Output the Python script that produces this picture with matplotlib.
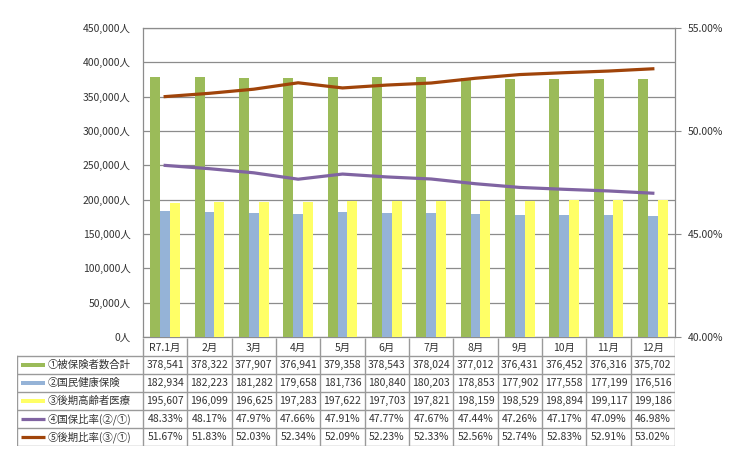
import matplotlib.pyplot as plt
import matplotlib.ticker as mticker
from matplotlib.patches import Rectangle
import numpy as np

plt.rcParams['font.family'] = ['Noto Sans CJK JP', 'DejaVu Sans']

# data
months = ['R7.1月', '2月', '3月', '4月', '5月', '6月', '7月', '8月', '9月', '10月', '11月', '12月']
total = [378541, 378322, 377907, 376941, 379358, 378543, 378024, 377012, 376431, 376452, 376316, 375702]
kokuho = [182934, 182223, 181282, 179658, 181736, 180840, 180203, 178853, 177902, 177558, 177199, 176516]
kouki = [195607, 196099, 196625, 197283, 197622, 197703, 197821, 198159, 198529, 198894, 199117, 199186]
kokuho_rate = [48.33, 48.17, 47.97, 47.66, 47.91, 47.77, 47.67, 47.44, 47.26, 47.17, 47.09, 46.98]
kouki_rate = [51.67, 51.83, 52.03, 52.34, 52.09, 52.23, 52.33, 52.56, 52.74, 52.83, 52.91, 53.02]
names = ['①被保険者数合計', '②国民健康保険', '③後期高齢者医療', '④国保比率(②/①)', '⑤後期比率(③/①)']

c_green = '#9BBB59'
c_blue = '#95B3D7'
c_yellow = '#FFFF66'
c_purple = '#8064A2'
c_brown = '#A0440A'
c_grid = '#8C8C8C'
c_text = '#333333'

fig = plt.figure(figsize=(7.4, 4.57), dpi=100)

# plot area
ax = fig.add_axes([143/740, 1-337/457, 532/740, 309/457])
x = np.arange(len(months))
w = 0.225
ax.bar(x - w, total, w, color=c_green, zorder=3)
ax.bar(x, kokuho, w, color=c_blue, zorder=3)
ax.bar(x + w, kouki, w, color=c_yellow, zorder=3)

ax.set_xlim(-0.5, len(months) - 0.5)
ax.set_ylim(0, 450000)
ax.set_yticks(np.arange(0, 450001, 50000))
ax.yaxis.set_major_formatter(mticker.FuncFormatter(lambda v, p: '{:,.0f}人'.format(v)))
ax.set_xticks([])
ax.grid(axis='y', color=c_grid, linewidth=0.9, zorder=0)
ax.tick_params(axis='y', length=0, labelsize=7.5, labelcolor=c_text, pad=9)
for s in ax.spines.values():
    s.set_color(c_grid)
    s.set_linewidth(0.9)

ax2 = ax.twinx()
ax2.plot(x, kokuho_rate, color=c_purple, linewidth=2.3, zorder=4)
ax2.plot(x, kouki_rate, color=c_brown, linewidth=2.3, zorder=4)
ax2.set_ylim(40, 55)
ax2.set_yticks([40, 45, 50, 55])
ax2.yaxis.set_major_formatter(mticker.FuncFormatter(lambda v, p: '{:.2f}%'.format(v)))
ax2.tick_params(axis='y', length=4, color=c_grid, labelsize=7.5, labelcolor=c_text, pad=5)
for s in ax2.spines.values():
    s.set_visible(False)

# data table
L = 126 / (532 / 12)
tx = fig.add_axes([17/740, 1-446/457, 658/740, 108/457])
tx.set_xlim(-0.5 - L, len(months) - 0.5)
tx.set_ylim(6, 0)
tx.axis('off')
lc = '#9A9A9A'
lw = 1.0
for k in range(len(months) + 1):
    tx.plot([k - 0.5, k - 0.5], [0, 6], color=lc, linewidth=lw, solid_capstyle='butt')
tx.plot([-0.5 - L, -0.5 - L], [1, 6], color=lc, linewidth=lw)
for r in range(1, 7):
    tx.plot([-0.5 - L, len(months) - 0.5], [r, r], color=lc, linewidth=lw)

fs = 7.5
for i, m in enumerate(months):
    tx.text(i, 0.55, m, ha='center', va='center', fontsize=fs, color=c_text)

rows = [
    ['{:,}'.format(v) for v in total],
    ['{:,}'.format(v) for v in kokuho],
    ['{:,}'.format(v) for v in kouki],
    ['{:.2f}%'.format(v) for v in kokuho_rate],
    ['{:.2f}%'.format(v) for v in kouki_rate],
]
for r, vals in enumerate(rows):
    for i, v in enumerate(vals):
        tx.text(i, r + 1.5, v, ha='center', va='center', fontsize=fs, color=c_text)

x0 = -0.5 - L
bar_cols = [c_green, c_blue, c_yellow]
for r in range(3):
    tx.add_patch(Rectangle((x0 + 0.1, r + 1.5 - 0.13), 0.54, 0.26, color=bar_cols[r], linewidth=0))
for r, c in zip([3, 4], [c_purple, c_brown]):
    tx.plot([x0 + 0.1, x0 + 0.64], [r + 1.5, r + 1.5], color=c, linewidth=2.3, solid_capstyle='butt')
for r, n in enumerate(names):
    tx.text(x0 + 0.69, r + 1.5, n, ha='left', va='center', fontsize=7.5, color=c_text)

plt.savefig('out.png', dpi=100)
